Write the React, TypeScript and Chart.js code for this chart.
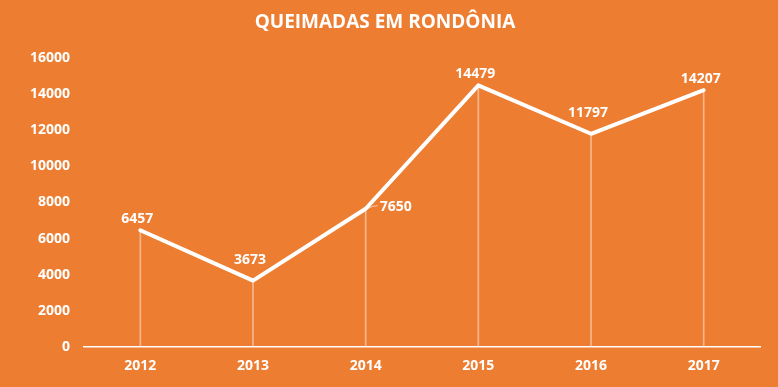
import React, { useEffect, useRef } from "react";
import { Chart, registerables } from "chart.js";

Chart.register(...registerables);

const years = ["2012", "2013", "2014", "2015", "2016", "2017"];
const queimadas = [6457, 3673, 7650, 14479, 11797, 14207];
const yTicks = [0, 2000, 4000, 6000, 8000, 10000, 12000, 14000, 16000];
const titleText = "QUEIMADAS EM RONDÔNIA";

const BG = "#ED7D31";
const FONT = "'Open Sans', 'DejaVu Sans', sans-serif";

const bgPlugin = {
  id: "bgFill",
  beforeDraw(chart: any) {
    const ctx = chart.ctx;
    ctx.save();
    ctx.fillStyle = BG;
    ctx.fillRect(0, 0, chart.width, chart.height);
    ctx.restore();
  },
};

const labelPlugin = {
  id: "pointLabels",
  afterDatasetsDraw(chart: any) {
    const ctx = chart.ctx;
    const meta = chart.getDatasetMeta(1);
    const data = chart.data.datasets[1].data as number[];
    ctx.save();
    ctx.font = `bold 14px ${FONT}`;
    ctx.fillStyle = "#ffffff";
    ctx.textBaseline = "middle";
    meta.data.forEach((pt: any, i: number) => {
      const x = pt.x;
      const y = pt.y;
      const txt = String(data[i]);
      if (i === 2) {
        ctx.strokeStyle = "rgba(255,255,255,0.6)";
        ctx.lineWidth = 1;
        ctx.beginPath();
        ctx.moveTo(x + 2, y);
        ctx.quadraticCurveTo(x + 6, y - 3, x + 12, y - 3);
        ctx.stroke();
        ctx.textAlign = "left";
        ctx.fillText(txt, x + 14, y - 2);
      } else {
        const off = i === 1 || i === 4 ? 21 : 11;
        ctx.textAlign = "center";
        ctx.fillText(txt, x - 3, y - off);
      }
    });
    ctx.restore();
  },
};

export default function App() {
  const ref = useRef<HTMLCanvasElement | null>(null);
  useEffect(() => {
    if (!ref.current) return;
    const chart = new Chart(ref.current, {
      type: "bar",
      data: {
        labels: years,
        datasets: [
          {
            type: "bar",
            data: queimadas,
            backgroundColor: "rgba(255,255,255,0.45)",
            barThickness: 1,
            order: 2,
          },
          {
            type: "line",
            data: queimadas,
            borderColor: "#ffffff",
            borderWidth: 4,
            pointRadius: 0,
            borderJoinStyle: "round",
            borderCapStyle: "round",
            tension: 0,
            fill: false,
            order: 0,
          },
        ],
      } as any,
      options: {
        responsive: false,
        animation: false,
        layout: { padding: { left: 10, right: 18, top: 0, bottom: 0 } },
        plugins: {
          legend: { display: false },
          tooltip: { enabled: false },
          title: {
            display: true,
            text: titleText,
            color: "#ffffff",
            font: { family: FONT, size: 19, weight: "bold" },
            padding: { top: 11, bottom: 24 },
          },
        },
        scales: {
          x: {
            offset: true,
            grid: { display: false, drawTicks: false },
            border: { display: true, color: "#ffffff", width: 1.5 },
            ticks: {
              color: "#ffffff",
              font: { family: FONT, size: 14, weight: "bold" },
              padding: 11,
            },
            afterFit(scale: any) {
              scale.height = 40;
            },
          },
          y: {
            min: 0,
            max: 16000,
            afterBuildTicks(scale: any) {
              scale.ticks = yTicks.map((v) => ({ value: v }));
            },
            grid: { display: false, drawTicks: false },
            border: { display: false },
            ticks: {
              color: "#ffffff",
              font: { family: FONT, size: 14, weight: "bold" },
              padding: 14,
              callback: (v: any) => String(v),
            },
            afterFit(scale: any) {
              scale.width = 74;
            },
          },
        },
      } as any,
      plugins: [bgPlugin, labelPlugin],
    });
    return () => chart.destroy();
  }, []);
  return (
    <div style={{ position: "fixed", left: 0, top: 0, width: 778, height: 387, background: BG }}>
      <canvas ref={ref} width={778} height={387} style={{ display: "block" }} />
    </div>
  );
}
